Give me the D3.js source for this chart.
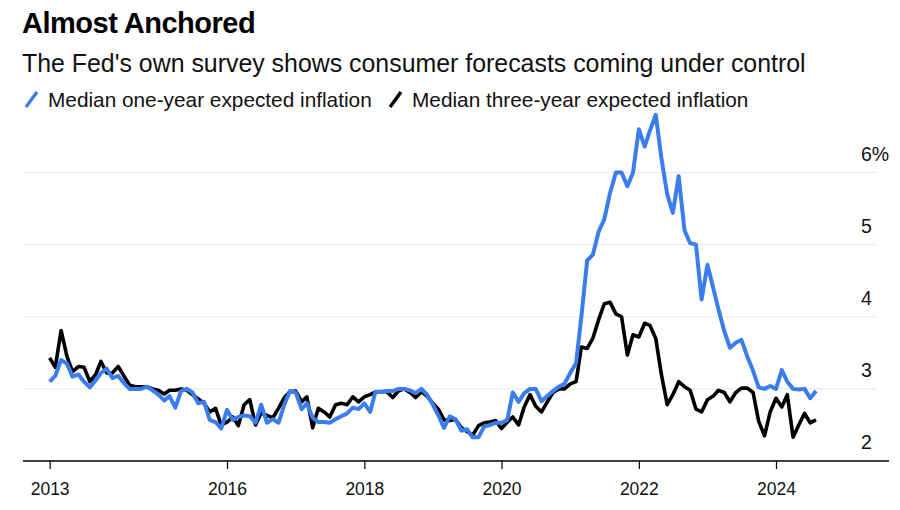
<!DOCTYPE html>
<html>
<head>
<meta charset="utf-8">
<script src="https://cdn.jsdelivr.net/npm/d3@7"></script>
<style>
  html, body { margin: 0; padding: 0; background: #fff; }
  svg { display: block; font-family: "Liberation Sans", Arial, Helvetica, sans-serif; }
</style>
</head>
<body>
<svg id="chart" width="900" height="510"></svg>
<script>
// ---- Data (monthly, starting June 2013) ----
const startMonth = "2013-06";
const oneYear = [
  3.10,3.18,3.40,3.35,3.17,3.20,3.10,3.02,3.12,3.22,3.28,3.15,3.18,3.08,3.00,3.00,3.00,3.03,2.98,2.92,
  2.84,2.90,2.74,2.97,3.00,2.95,2.80,2.82,2.57,2.54,2.45,2.71,2.57,2.61,2.63,2.62,2.53,2.78,2.53,2.58,
  2.53,2.78,2.97,2.95,2.72,2.80,2.60,2.54,2.54,2.53,2.58,2.62,2.66,2.74,2.72,2.80,2.68,2.96,2.96,2.97,
  2.97,3.00,3.00,2.98,2.94,3.00,2.92,2.78,2.62,2.46,2.62,2.58,2.42,2.44,2.33,2.33,2.48,2.50,2.53,2.53,
  2.57,2.95,2.82,2.94,3.00,3.00,2.83,2.90,2.97,3.03,3.07,3.22,3.36,4.00,4.78,4.86,5.18,5.35,5.72,6.00,
  6.00,5.81,6.00,6.60,6.36,6.58,6.80,6.20,5.70,5.44,5.95,5.20,5.02,5.00,4.24,4.72,4.40,4.10,3.80,3.57,
  3.64,3.68,3.45,3.25,3.02,3.00,3.04,3.00,3.26,3.10,3.00,2.99,3.00,2.87,2.97
];
const threeYear = [
  3.43,3.30,3.81,3.45,3.24,3.31,3.30,3.10,3.20,3.38,3.22,3.22,3.31,3.18,3.05,3.03,3.03,3.03,3.00,2.98,
  2.93,2.98,2.98,3.00,2.98,2.92,2.86,2.80,2.68,2.73,2.50,2.54,2.61,2.49,2.78,2.85,2.50,2.67,2.63,2.60,
  2.73,2.88,2.96,2.97,2.82,2.89,2.46,2.73,2.68,2.61,2.78,2.80,2.78,2.89,2.82,2.89,2.92,2.96,2.96,2.96,
  2.88,2.97,3.00,2.95,2.88,2.96,2.90,2.80,2.71,2.57,2.56,2.58,2.46,2.41,2.36,2.49,2.53,2.54,2.56,2.45,
  2.54,2.61,2.50,2.75,2.92,2.76,2.68,2.82,2.95,3.00,3.00,3.07,3.10,3.58,3.56,3.70,3.96,4.18,4.20,4.04,
  4.00,3.47,3.75,3.72,3.91,3.88,3.70,3.20,2.78,2.92,3.10,3.03,2.98,2.72,2.68,2.85,2.90,2.98,2.95,2.82,
  2.95,3.01,3.01,2.95,2.55,2.35,2.68,2.87,2.75,2.92,2.33,2.50,2.66,2.53,2.57
];
const seriesNames = ["Median one-year expected inflation", "Median three-year expected inflation"];
const seriesColors = ["#3b7ded", "#000000"];
const xTickDates = ["2013-06", "2016-01", "2018-01", "2020-01", "2022-01", "2024-01"];
const yTicks = [2, 3, 4, 5, 6];

// ---- Setup ----
const svg = d3.select("#chart");
const parseMonth = d3.timeParse("%Y-%m");
const start = parseMonth(startMonth);
const dates = oneYear.map((_, i) => d3.timeMonth.offset(start, i));

const x = d3.scaleTime()
  .domain([new Date(2016, 0, 1), new Date(2024, 0, 1)])
  .range([227, 776]);
const y = d3.scaleLinear().domain([2, 6]).range([461, 172.5]);

const plotLeft = 23, plotRight = 889, gridRight = 876;

// Gridlines
svg.append("g").selectAll("line")
  .data(yTicks.filter(d => d > 2))
  .join("line")
  .attr("x1", plotLeft).attr("x2", gridRight)
  .attr("y1", d => y(d)).attr("y2", d => y(d))
  .attr("stroke", "#e8e8e8").attr("stroke-width", 1);

// Y labels
svg.append("g").selectAll("text")
  .data(yTicks)
  .join("text")
  .attr("x", 861)
  .attr("y", d => y(d) - 12)
  .attr("font-size", 19.5)
  .attr("fill", "#111")
  .text(d => d === 6 ? "6%" : d);

// X axis
const xAxis = d3.axisBottom(x)
  .tickValues(xTickDates.map(parseMonth))
  .tickFormat(d3.timeFormat("%Y"))
  .tickSize(8)
  .tickSizeOuter(0)
  .tickPadding(14);
const gx = svg.append("g").attr("transform", "translate(0,461)").call(xAxis);
gx.select(".domain").remove();
gx.selectAll(".tick line").attr("stroke", "#000").attr("stroke-width", 1.2);
gx.selectAll(".tick text").attr("font-size", 17.5).attr("fill", "#111")
  .attr("font-family", "'Liberation Sans', Arial, sans-serif");
svg.append("line")
  .attr("x1", plotLeft).attr("x2", plotRight)
  .attr("y1", 461).attr("y2", 461)
  .attr("stroke", "#000").attr("stroke-width", 1.4);

// Lines
const line = d3.line()
  .x((d, i) => x(dates[i]))
  .y(d => y(d));

svg.append("path")
  .datum(threeYear)
  .attr("fill", "none")
  .attr("stroke", seriesColors[1])
  .attr("stroke-width", 3.6)
  .attr("stroke-linejoin", "round")
  .attr("d", line);

svg.append("path")
  .datum(oneYear)
  .attr("fill", "none")
  .attr("stroke", seriesColors[0])
  .attr("stroke-width", 4)
  .attr("stroke-linejoin", "round")
  .attr("d", line);

// Title & subtitle
svg.append("text")
  .attr("x", 22).attr("y", 33)
  .attr("font-size", 29).attr("font-weight", "bold").attr("fill", "#000")
  .attr("letter-spacing", -0.5)
  .text("Almost Anchored");
svg.append("text")
  .attr("x", 22).attr("y", 72)
  .attr("font-size", 24.9).attr("fill", "#111")
  .text("The Fed's own survey shows consumer forecasts coming under control");

// Legend
const legendItems = [
  { name: seriesNames[0], color: seriesColors[0], x: 25 },
  { name: seriesNames[1], color: seriesColors[1], x: 389 }
];
const lg = svg.append("g");
legendItems.forEach(it => {
  lg.append("line")
    .attr("x1", it.x + 1).attr("y1", 107)
    .attr("x2", it.x + 12).attr("y2", 92)
    .attr("stroke", it.color).attr("stroke-width", 3.4);
  lg.append("text")
    .attr("x", it.x + 23).attr("y", 107)
    .attr("font-size", 20.8).attr("fill", "#111")
    .text(it.name);
});
</script>
</body>
</html>
